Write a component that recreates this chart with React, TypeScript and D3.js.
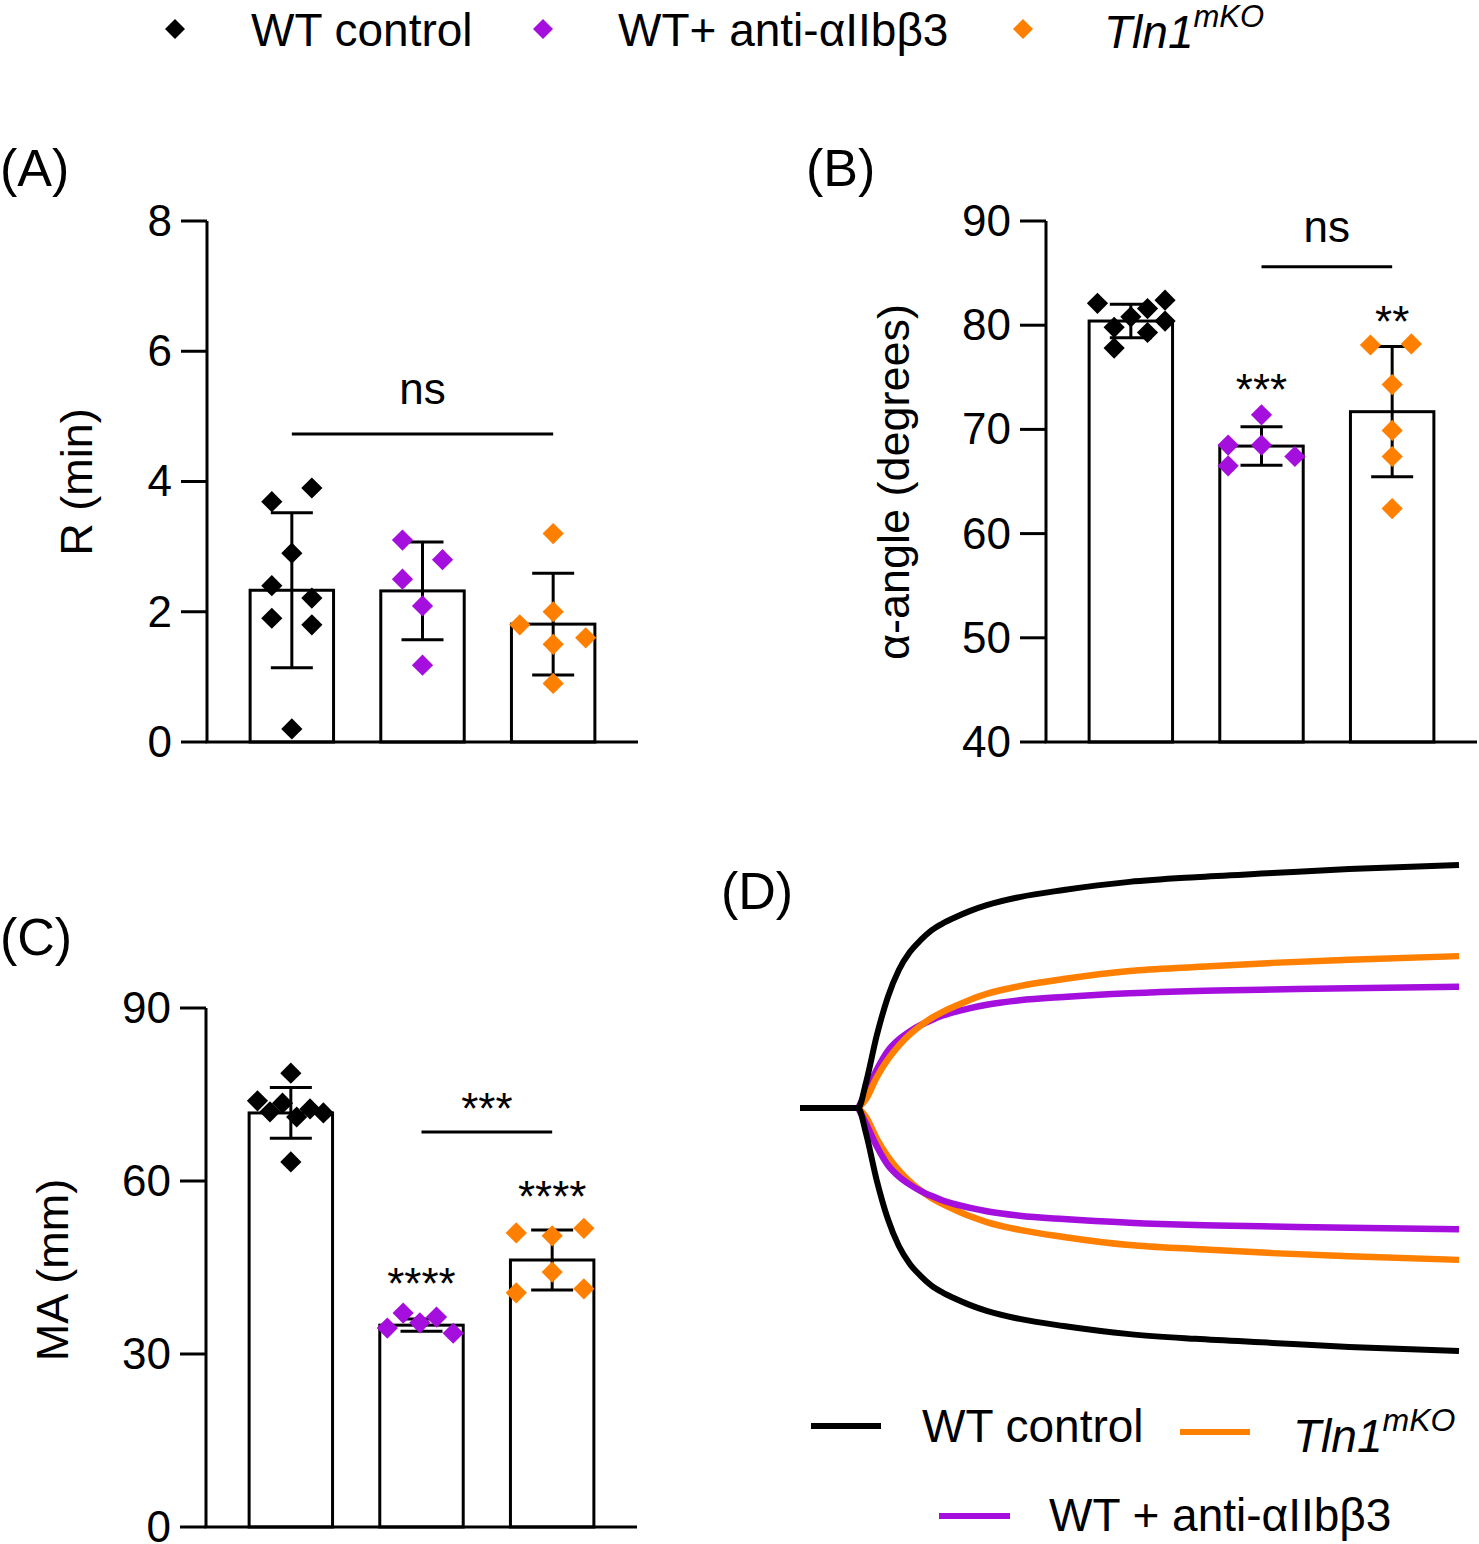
import React from 'react';
import * as d3 from 'd3';

// ---------------- DATA ----------------
const groups = ['WT control', 'WT+ anti-αIIbβ3', 'Tln1mKO'];
const groupColors = ['#000000', '#a40fdd', '#ff7f00'];

// Panel A: R (min)
const rTicks = [0, 2, 4, 6, 8];
const rMeans = [2.33, 2.32, 1.81];
const rSD = [1.19, 0.75, 0.78];
const rWT = [3.9, 3.69, 2.9, 2.4, 2.21, 1.9, 1.8, 0.2];
const rWTJit = [0.24, -0.24, 0, -0.24, 0.24, -0.24, 0.24, 0];
const rAnti = [3.1, 2.8, 2.5, 2.09, 1.18];
const rAntiJit = [-0.24, 0.24, -0.24, 0, 0];
const rTln = [3.2, 2.0, 1.8, 1.5, 1.6, 0.9];
const rTlnJit = [0, 0, -0.4, 0, 0.39, 0];

// Panel B: alpha-angle (degrees)
const aTicks = [40, 50, 60, 70, 80, 90];
const aMeans = [80.4, 68.4, 71.7];
const aSD = [1.6, 1.85, 6.25];
const aWT = [82.1, 82.4, 80.8, 81.6, 80.4, 79.8, 79.3, 77.8];
const aWTJit = [-0.4, 0.41, 0, 0.2, 0.41, -0.2, 0.2, -0.2];
const aAnti = [71.4, 68.5, 68.5, 66.5, 67.4];
const aAntiJit = [0, -0.4, 0, -0.4, 0.4];
const aTln = [78.1, 78.2, 74.3, 69.9, 67.4, 62.4];
const aTlnJit = [-0.26, 0.23, 0, 0, 0, 0];

// Panel C: MA (mm)
const mTicks = [0, 30, 60, 90];
const mMeans = [71.8, 35.0, 46.3];
const mSD = [4.4, 1.05, 5.2];
const mWT = [78.7, 73.9, 73.5, 72.0, 72.5, 71.1, 71.8, 63.3];
const mWTJit = [0, -0.4, -0.1, -0.25, 0.23, 0.07, 0.39, 0];
const mAnti = [34.5, 37.1, 35.4, 36.4, 33.6];
const mAntiJit = [-0.41, -0.22, -0.02, 0.18, 0.38];
const mTln = [51.0, 50.5, 51.8, 44.2, 40.6, 41.3];
const mTlnJit = [-0.43, 0, 0.38, 0, -0.43, 0.38];

// Panel D: TEG tracings (time in min, amplitude in mm)
const dTime = [0, 5.3, 6, 7, 8, 9, 10, 11, 12, 13, 14, 15.5, 17, 20, 24, 30, 36, 43, 50, 60];
const dWT = [0, 0, 7.4, 21.6, 32.9, 40.9, 46.2, 49.8, 52.7, 54.7, 56.3, 58.4, 60.1, 62.5, 64.6, 67.0, 68.4, 69.6, 70.8, 72.0];
const dAnti = [0, 0, 4.6, 11.4, 16.9, 20.3, 22.7, 24.6, 26.1, 27.4, 28.4, 29.6, 30.6, 31.9, 32.9, 34.0, 34.7, 35.1, 35.5, 35.9];
const dTln = [0, 0, 2.6, 9.2, 14.4, 18.5, 21.8, 24.5, 26.7, 28.5, 30.0, 32.1, 33.8, 36.1, 38.2, 40.6, 41.8, 43.0, 43.9, 45.0];

// ---------------- STYLE ----------------
const FONT = "'Liberation Sans', Arial, Helvetica, sans-serif";
const SW = 3;

const diamond = (size: number) => d3.symbol().type(d3.symbolSquare).size(size)() as string;

type Ann = { kind: 'line' | 'text'; g0?: number; g1?: number; g?: number; v: number; text?: string };

function BarPanel(props: {
  label: string; labelX: number; labelY: number;
  yDomain: [number, number]; yRange: [number, number]; ticks: number[];
  axisX: number; xEnd: number; title: string; titleX: number; titleY: number;
  means: number[]; sds: number[]; values: number[][]; jits: number[][]; anns: Ann[];
}) {
  const y = d3.scaleLinear().domain(props.yDomain).range(props.yRange);
  const x = d3.scaleBand().domain(groups).range([props.axisX, props.xEnd]).paddingInner(0.3615).paddingOuter(0.33);
  const bw = x.bandwidth();
  const base = props.yRange[0];
  const cx = (i: number) => (x(groups[i]) as number) + bw / 2;
  const d = diamond(225);
  return (
    <g>
      <text x={props.labelX} y={props.labelY} fontSize={52} fontFamily={FONT}>{`(${props.label})`}</text>
      {props.means.map((m, i) => (
        <rect key={'b' + i} x={x(groups[i])} y={y(m)} width={bw} height={base - y(m)} fill="#fff" stroke="#000" strokeWidth={SW} />
      ))}
      {props.means.map((m, i) => {
        const c = cx(i);
        const t = y(m + props.sds[i]);
        const b = y(m - props.sds[i]);
        return (
          <g key={'e' + i} stroke="#000" strokeWidth={SW}>
            <line x1={c} x2={c} y1={t} y2={b} />
            <line x1={c - 21} x2={c + 21} y1={t} y2={t} />
            <line x1={c - 21} x2={c + 21} y1={b} y2={b} />
          </g>
        );
      })}
      {props.values.map((vals, gi) =>
        vals.map((v, j) => (
          <path key={`p${gi}-${j}`} d={d} fill={groupColors[gi]}
            transform={`translate(${cx(gi) + props.jits[gi][j] * bw},${y(v)}) rotate(45)`} />
        ))
      )}
      <line x1={props.axisX} x2={props.axisX} y1={props.yRange[1]} y2={base} stroke="#000" strokeWidth={SW} />
      <line x1={props.axisX - 1.5} x2={props.xEnd} y1={base} y2={base} stroke="#000" strokeWidth={SW} />
      {props.ticks.map((t) => (
        <g key={'t' + t}>
          <line x1={props.axisX - 26} x2={props.axisX} y1={y(t)} y2={y(t)} stroke="#000" strokeWidth={SW} />
          <text x={props.axisX - 35} y={y(t)} dy="0.34em" textAnchor="end" fontSize={44} fontFamily={FONT}>{t}</text>
        </g>
      ))}
      <text transform={`translate(${props.titleX},${props.titleY}) rotate(-90)`} textAnchor="middle" fontSize={45} fontFamily={FONT}>{props.title}</text>
      {props.anns.map((a, k) =>
        a.kind === 'line' ? (
          <line key={'a' + k} x1={cx(a.g0 as number)} x2={cx(a.g1 as number)} y1={y(a.v)} y2={y(a.v)} stroke="#000" strokeWidth={SW} />
        ) : (
          <text key={'a' + k} x={a.g !== undefined ? cx(a.g) : (cx(a.g0 as number) + cx(a.g1 as number)) / 2} y={y(a.v)}
            textAnchor="middle" fontSize={44} fontFamily={FONT}>{a.text}</text>
        )
      )}
    </g>
  );
}

function TegPanel() {
  const x = d3.scaleLinear().domain([0, 60]).range([800, 1459]);
  const y = d3.scaleLinear().domain([-40, 40]).range([1378, 838]);
  const upper = d3.line<number>().x((_, i) => x(dTime[i])).y((a) => y(a / 2)).curve(d3.curveMonotoneX);
  const lower = d3.line<number>().x((_, i) => x(dTime[i])).y((a) => y(-a / 2)).curve(d3.curveMonotoneX);
  // coloured tracings are drawn from clot onset (index >= 1); the shared baseline stays black
  const fromOnset = (arr: number[]) => arr.map((v, i) => (i >= 1 ? v : NaN));
  const upperC = upper.defined((a) => !Number.isNaN(a));
  const uAnti = upperC(fromOnset(dAnti)) as string;
  const uTln = upperC(fromOnset(dTln)) as string;
  const lowerC = lower.defined((a) => !Number.isNaN(a));
  const lAnti = lowerC(fromOnset(dAnti)) as string;
  const lTln = lowerC(fromOnset(dTln)) as string;
  const common = { fill: 'none', strokeLinejoin: 'round' as const, strokeLinecap: 'butt' as const };
  return (
    <g>
      <text x={721} y={909} fontSize={52} fontFamily={FONT}>(D)</text>
      <path d={uAnti} stroke={groupColors[1]} strokeWidth={6.5} {...common} />
      <path d={uTln} stroke={groupColors[2]} strokeWidth={6.5} {...common} />
      <path d={lTln} stroke={groupColors[2]} strokeWidth={6.5} {...common} />
      <path d={lAnti} stroke={groupColors[1]} strokeWidth={6.5} {...common} />
      <path d={d3.line<number>().x((_, i) => x(dTime[i])).y((a) => y(a / 2)).curve(d3.curveMonotoneX)(dWT) as string} stroke="#000" strokeWidth={6} {...common} />
      <path d={d3.line<number>().x((_, i) => x(dTime[i])).y((a) => y(-a / 2)).curve(d3.curveMonotoneX)(dWT) as string} stroke="#000" strokeWidth={6} {...common} />
      <line x1={811} x2={881} y1={1426} y2={1426} stroke="#000" strokeWidth={6} />
      <text x={922} y={1442} fontSize={46} fontFamily={FONT}>WT control</text>
      <line x1={1180} x2={1250} y1={1432} y2={1432} stroke={groupColors[2]} strokeWidth={6} />
      <text x={1293} y={1452} fontSize={46} fontFamily={FONT} fontStyle="italic">
        Tln1<tspan fontSize={32} dy={-21}>mKO</tspan>
      </text>
      <line x1={939} x2={1010} y1={1516} y2={1516} stroke={groupColors[1]} strokeWidth={6} />
      <text x={1049} y={1531} fontSize={46} fontFamily={FONT}>WT + anti-αIIbβ3</text>
    </g>
  );
}

function TopLegend() {
  const d = diamond(200);
  const items = [
    { cx: 175, tx: 251 },
    { cx: 543, tx: 618 },
    { cx: 1023, tx: 1104 },
  ];
  return (
    <g>
      {items.map((it, i) => (
        <g key={i}>
          <path d={d} fill={groupColors[i]} transform={`translate(${it.cx},29) rotate(45)`} />
          {i < 2 ? (
            <text x={it.tx} y={46} fontSize={46} fontFamily={FONT}>{groups[i]}</text>
          ) : (
            <text x={it.tx} y={48} fontSize={46} fontFamily={FONT} fontStyle="italic">
              Tln1<tspan fontSize={31} dy={-21}>mKO</tspan>
            </text>
          )}
        </g>
      ))}
    </g>
  );
}

export default function App() {
  return (
    <svg width={1479} height={1544} style={{ position: 'absolute', left: 0, top: 0, background: '#fff' }}>
      <rect width={1479} height={1544} fill="#fff" />
      <TopLegend />
      <BarPanel label="A" labelX={0} labelY={186}
        yDomain={[0, 8]} yRange={[742, 221]} ticks={rTicks} axisX={207} xEnd={638}
        title="R (min)" titleX={92} titleY={482}
        means={rMeans} sds={rSD} values={[rWT, rAnti, rTln]} jits={[rWTJit, rAntiJit, rTlnJit]}
        anns={[
          { kind: 'line', g0: 0, g1: 2, v: 4.73 },
          { kind: 'text', g: 1, v: 5.19, text: 'ns' },
        ]} />
      <BarPanel label="B" labelX={806} labelY={186}
        yDomain={[40, 90]} yRange={[742, 221]} ticks={aTicks} axisX={1046} xEnd={1477}
        title="α-angle (degrees)" titleX={909} titleY={482}
        means={aMeans} sds={aSD} values={[aWT, aAnti, aTln]} jits={[aWTJit, aAntiJit, aTlnJit]}
        anns={[
          { kind: 'line', g0: 1, g1: 2, v: 85.6 },
          { kind: 'text', g0: 1, g1: 2, v: 88.0, text: 'ns' },
          { kind: 'text', g: 1, v: 72.3, text: '***' },
          { kind: 'text', g: 2, v: 78.9, text: '**' },
        ]} />
      <BarPanel label="C" labelX={0} labelY={955}
        yDomain={[0, 90]} yRange={[1527, 1008]} ticks={mTicks} axisX={206} xEnd={637}
        title="MA (mm)" titleX={68} titleY={1270}
        means={mMeans} sds={mSD} values={[mWT, mAnti, mTln]} jits={[mWTJit, mAntiJit, mTlnJit]}
        anns={[
          { kind: 'line', g0: 1, g1: 2, v: 68.5 },
          { kind: 'text', g0: 1, g1: 2, v: 69.8, text: '***' },
          { kind: 'text', g: 1, v: 39.5, text: '****' },
          { kind: 'text', g: 2, v: 54.6, text: '****' },
        ]} />
      <TegPanel />
    </svg>
  );
}
